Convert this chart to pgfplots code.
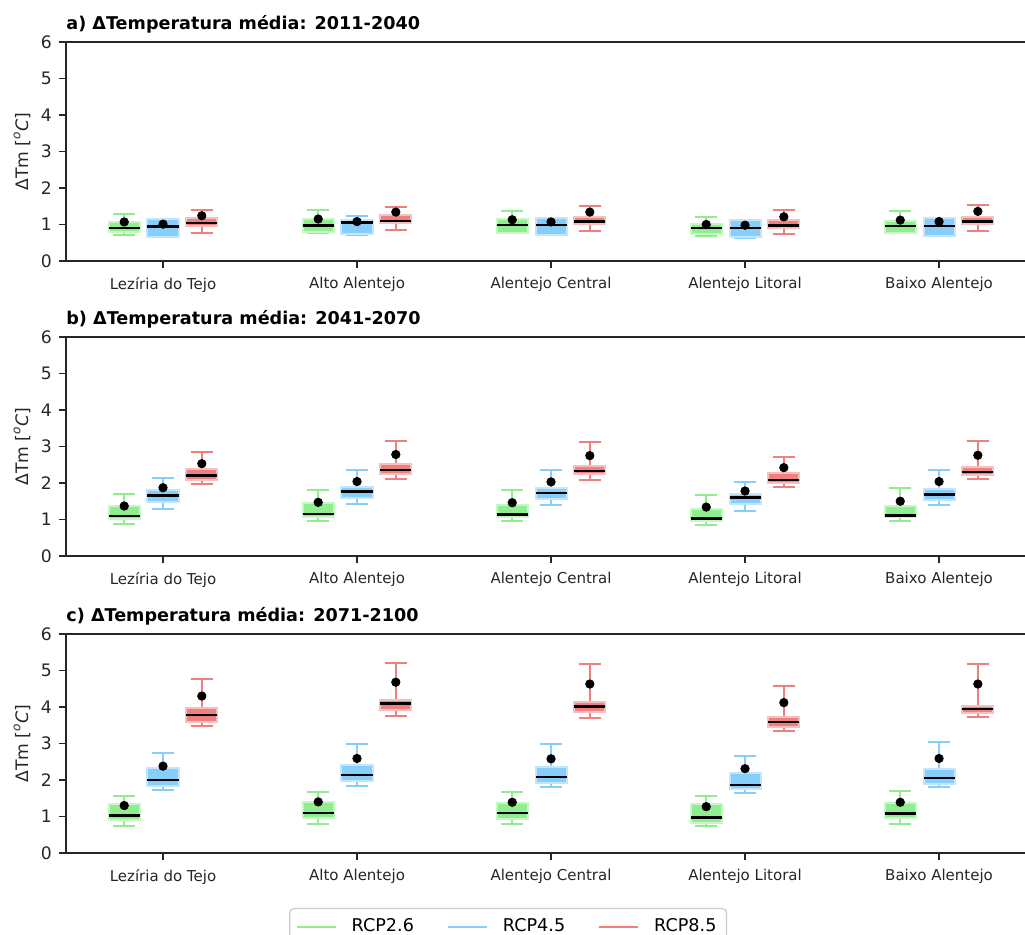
\documentclass[border=0pt]{standalone}
\usepackage{fontspec}
\setmainfont{DejaVu Sans}
\usepackage{pgfplots}
\pgfplotsset{compat=1.18}
\usepgfplotslibrary{statistics}
\definecolor{cg}{HTML}{90EE90}
\definecolor{cb}{HTML}{87CEFA}
\definecolor{cr}{HTML}{F08080}
\definecolor{ax}{HTML}{262626}

\newcommand{\bx}[7]{\addplot[#1, boxplot prepared={draw position=#2, lower whisker=#3, lower quartile=#4, median=#5, upper quartile=#6, upper whisker=#7}] coordinates {};}

\pgfplotsset{
  G/.style={draw=cg, line width=1pt, boxplot/every box/.style={fill=cg, draw=cg!50!white}},
  B/.style={draw=cb, line width=1pt, boxplot/every box/.style={fill=cb, draw=cb!50!white}},
  R/.style={draw=cr, line width=1pt, boxplot/every box/.style={fill=cr, draw=cr!50!white}},
  means/.style={only marks, mark=*, mark size=2.1pt, black},
  panel/.style={
    scale only axis, width=479.5pt, height=109.5pt,
    anchor=north west,
    xmin=-0.5, xmax=4.443, ymin=0, ymax=6,
    axis x line*=box, axis y line*=left,
    xtick pos=left, ytick pos=left, tick align=outside,
    major tick length=3.5pt,
    axis line style={ax, line width=0.8pt},
    every tick/.style={ax, line width=0.8pt},
    xtick={0,1,2,3,4},
    xticklabels={Lezíria do Tejo, Alto Alentejo, Alentejo Central, Alentejo Litoral, Baixo Alentejo},
    ytick={0,1,2,3,4,5,6},
    /pgf/number format/assume math mode=true,
    xticklabel style={font=\fontsize{7.5}{9}\selectfont, text=ax, yshift=-1pt},
    yticklabel style={font=\fontsize{8.6}{10}\selectfont, text=ax},
    ylabel={ΔTm [\textsuperscript{\itshape o}\textit{C}]},
    every axis y label/.style={at={(axis description cs:-0.0459,0.5)}, rotate=90, anchor=center, font=\fontsize{8.6}{10}\selectfont, text=ax},
    every axis title/.style={at={(axis description cs:0,1)}, anchor=base west, yshift=6.5pt, inner sep=0pt, font=\bfseries\fontsize{8.8}{10}\selectfont},
    boxplot/draw direction=y,
    boxplot/box extend=0.16,
    boxplot/whisker extend=0.115,
    boxplot/every median/.style={black, line width=1.25pt},
  }
}

\begin{document}
\begin{tikzpicture}
% ---------------- panel a
\begin{axis}[panel, at={(33pt,-21pt)}, title={a) ΔTemperatura média: 2011-2040}]
\bx{G}{-0.2}{0.70}{0.79}{0.90}{1.07}{1.29}
\bx{B}{0.0}{0.66}{0.67}{0.95}{1.15}{1.16}
\bx{R}{0.2}{0.78}{0.96}{1.04}{1.17}{1.40}
\bx{G}{0.8}{0.76}{0.79}{0.97}{1.14}{1.40}
\bx{B}{1.0}{0.72}{0.73}{1.05}{1.12}{1.23}
\bx{R}{1.2}{0.85}{1.03}{1.10}{1.27}{1.49}
\bx{G}{1.8}{0.77}{0.78}{0.98}{1.14}{1.38}
\bx{B}{2.0}{0.71}{0.72}{0.99}{1.18}{1.19}
\bx{R}{2.2}{0.83}{1.02}{1.08}{1.21}{1.52}
\bx{G}{2.8}{0.68}{0.75}{0.90}{1.02}{1.21}
\bx{B}{3.0}{0.63}{0.65}{0.90}{1.11}{1.12}
\bx{R}{3.2}{0.74}{0.90}{0.97}{1.13}{1.40}
\bx{G}{3.8}{0.77}{0.78}{0.96}{1.10}{1.37}
\bx{B}{4.0}{0.68}{0.69}{0.96}{1.18}{1.19}
\bx{R}{4.2}{0.83}{1.01}{1.08}{1.21}{1.54}
\addplot[means] coordinates {(-0.2,1.07) (0,1.01) (0.2,1.24) (0.8,1.15) (1,1.08) (1.2,1.34) (1.8,1.13) (2,1.07) (2.2,1.34) (2.8,1.00) (3,0.98) (3.2,1.21) (3.8,1.12) (4,1.08) (4.2,1.36)};
\end{axis}
% ---------------- panel b
\begin{axis}[panel, at={(33pt,-168.5pt)}, title={b) ΔTemperatura média: 2041-2070}]
\bx{G}{-0.2}{0.87}{1.01}{1.10}{1.37}{1.70}
\bx{B}{0.0}{1.30}{1.49}{1.66}{1.81}{2.14}
\bx{R}{0.2}{1.97}{2.07}{2.20}{2.39}{2.84}
\bx{G}{0.8}{0.96}{1.06}{1.15}{1.44}{1.81}
\bx{B}{1.0}{1.43}{1.58}{1.77}{1.90}{2.35}
\bx{R}{1.2}{2.12}{2.26}{2.36}{2.53}{3.14}
\bx{G}{1.8}{0.97}{1.06}{1.14}{1.40}{1.81}
\bx{B}{2.0}{1.39}{1.55}{1.73}{1.86}{2.35}
\bx{R}{2.2}{2.09}{2.24}{2.33}{2.46}{3.12}
\bx{G}{2.8}{0.86}{0.95}{1.03}{1.30}{1.67}
\bx{B}{3.0}{1.24}{1.43}{1.60}{1.70}{2.04}
\bx{R}{3.2}{1.88}{2.01}{2.08}{2.28}{2.72}
\bx{G}{3.8}{0.97}{1.06}{1.11}{1.36}{1.85}
\bx{B}{4.0}{1.40}{1.54}{1.69}{1.84}{2.36}
\bx{R}{4.2}{2.10}{2.22}{2.30}{2.45}{3.14}
\addplot[means] coordinates {(-0.2,1.37) (0,1.87) (0.2,2.53) (0.8,1.47) (1,2.04) (1.2,2.78) (1.8,1.46) (2,2.03) (2.2,2.75) (2.8,1.34) (3,1.78) (3.2,2.42) (3.8,1.50) (4,2.04) (4.2,2.76)};
\end{axis}
% ---------------- panel c
\begin{axis}[panel, at={(33pt,-317pt)}, title={c) ΔTemperatura média: 2071-2100},
  legend columns=3,
  legend image code/.code={\draw[#1, line width=1pt] (0pt,0pt) -- (19.5pt,0pt);},
  legend style={at={(axis description cs:0.461,-0.251)}, anchor=north, draw=black!20, rounded corners=2pt, line width=0.6pt, font=\fontsize{8.8}{10}\selectfont, inner sep=3pt,
    /tikz/every odd column/.append style={column sep=5.5pt},
    /tikz/every even column/.append style={column sep=14.5pt}}]
\addlegendimage{draw=cg}\addlegendentry{RCP2.6}
\addlegendimage{draw=cb}\addlegendentry{RCP4.5}
\addlegendimage{draw=cr}\addlegendentry{RCP8.5}
\bx{G}{-0.2}{0.75}{0.90}{1.03}{1.34}{1.57}
\bx{B}{0.0}{1.73}{1.84}{2.00}{2.34}{2.73}
\bx{R}{0.2}{3.48}{3.58}{3.78}{3.96}{4.77}
\bx{G}{0.8}{0.80}{0.95}{1.10}{1.39}{1.67}
\bx{B}{1.0}{1.84}{1.96}{2.14}{2.42}{2.99}
\bx{R}{1.2}{3.75}{3.92}{4.10}{4.19}{5.20}
\bx{G}{1.8}{0.79}{0.92}{1.09}{1.37}{1.67}
\bx{B}{2.0}{1.81}{1.93}{2.08}{2.36}{2.99}
\bx{R}{2.2}{3.69}{3.87}{4.01}{4.13}{5.17}
\bx{G}{2.8}{0.73}{0.83}{0.97}{1.33}{1.55}
\bx{B}{3.0}{1.64}{1.75}{1.86}{2.19}{2.65}
\bx{R}{3.2}{3.34}{3.44}{3.59}{3.73}{4.57}
\bx{G}{3.8}{0.79}{0.95}{1.08}{1.37}{1.71}
\bx{B}{4.0}{1.82}{1.88}{2.05}{2.31}{3.05}
\bx{R}{4.2}{3.73}{3.84}{3.94}{4.04}{5.17}
\addplot[means] coordinates {(-0.2,1.30) (0,2.38) (0.2,4.30) (0.8,1.40) (1,2.59) (1.2,4.68) (1.8,1.39) (2,2.58) (2.2,4.63) (2.8,1.27) (3,2.31) (3.2,4.12) (3.8,1.39) (4,2.59) (4.2,4.63)};
\end{axis}
\pgfresetboundingbox
\useasboundingbox (0pt,0pt) rectangle (512.5pt,-467pt);
\end{tikzpicture}
\end{document}
